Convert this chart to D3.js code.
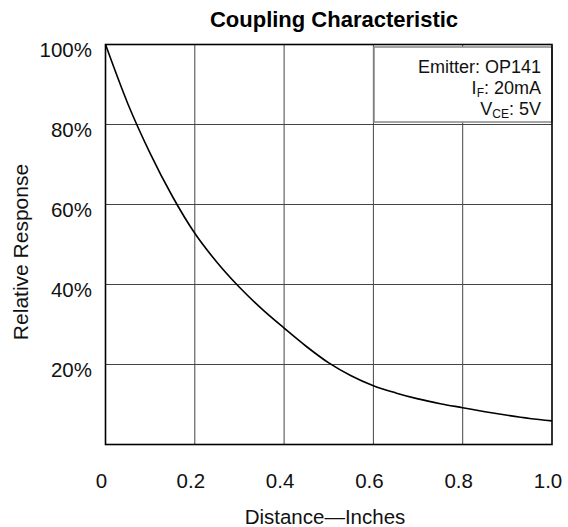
<!DOCTYPE html>
<html>
<head>
<meta charset="utf-8">
<script src="https://cdn.jsdelivr.net/npm/d3@7"></script>
<style>
  body { margin: 0; background: #fff; }
  svg { display: block; font-family: Arial, "Liberation Sans", sans-serif; }
</style>
</head>
<body>
<div id="chart"></div>
<script>
// data
let distance = [0, 0.05, 0.1, 0.15, 0.2, 0.25, 0.3, 0.35, 0.4, 0.45, 0.5,
                0.55, 0.6, 0.65, 0.7, 0.75, 0.8, 0.85, 0.9, 0.95, 1.0];
let response = [100, 85.2, 72.8, 62, 52.8, 45.5, 39.3, 33.9, 29.1, 24.5, 20.4,
                17.2, 14.7, 12.9, 11.4, 10.2, 9.2, 8.2, 7.3, 6.5, 5.9];

let xTicks = [0, 0.2, 0.4, 0.6, 0.8, 1.0];
let xTickLabels = ["0", "0.2", "0.4", "0.6", "0.8", "1.0"];
let yTicks = [20, 40, 60, 80, 100];
let yTickLabels = ["20%", "40%", "60%", "80%", "100%"];

let legendLines = [
  {main: "Emitter: OP141", sub: "", rest: ""},
  {main: "I", sub: "F", rest: ": 20mA"},
  {main: "V", sub: "CE", rest: ": 5V"}
];

let width = 568, height = 527;

let xScale = d3.scaleLinear().domain([0, 1]).range([105.5, 552]);
let yScale = d3.scaleLinear().domain([0, 100]).range([444.5, 44.5]);

let svg = d3.select("#chart").append("svg")
  .attr("width", width)
  .attr("height", height);

// grid
svg.append("g").selectAll("line")
  .data(xTicks.slice(1, -1))
  .enter().append("line")
  .attr("x1", d => xScale(d)).attr("x2", d => xScale(d))
  .attr("y1", yScale(0)).attr("y2", yScale(100))
  .attr("stroke", "#444").attr("stroke-width", 1);

svg.append("g").selectAll("line")
  .data(yTicks.slice(0, -1))
  .enter().append("line")
  .attr("y1", d => yScale(d)).attr("y2", d => yScale(d))
  .attr("x1", xScale(0)).attr("x2", xScale(1))
  .attr("stroke", "#444").attr("stroke-width", 1);

// curve
let pts = distance.map((d, i) => [d, response[i]]);
svg.append("path")
  .datum(pts)
  .attr("fill", "none")
  .attr("stroke", "#000")
  .attr("stroke-width", 1.6)
  .attr("d", d3.line()
    .x(d => xScale(d[0]))
    .y(d => yScale(d[1]))
    .curve(d3.curveMonotoneX));

// legend box
svg.append("rect")
  .attr("x", 374).attr("y", 47)
  .attr("width", xScale(1) - 374).attr("height", 75)
  .attr("fill", "#fff")
  .attr("stroke", "#888").attr("stroke-width", 1.5);

let legText = svg.append("g").selectAll("text")
  .data(legendLines)
  .enter().append("text")
  .attr("x", 541)
  .attr("y", (d, i) => 73 + i * 21)
  .attr("text-anchor", "end")
  .attr("font-size", 18)
  .attr("fill", "#111");
legText.append("tspan").text(d => d.main);
legText.append("tspan").attr("font-size", 12).attr("dy", 3).text(d => d.sub);
legText.append("tspan").attr("dy", d => d.sub ? -3 : 0).text(d => d.rest);

// frame
svg.append("rect")
  .attr("x", xScale(0)).attr("y", yScale(100))
  .attr("width", xScale(1) - xScale(0))
  .attr("height", yScale(0) - yScale(100))
  .attr("fill", "none")
  .attr("stroke", "#000").attr("stroke-width", 1.6);

// tick labels
svg.append("g").selectAll("text")
  .data(xTicks)
  .enter().append("text")
  .attr("x", d => xScale(d) - 4)
  .attr("y", 488)
  .attr("text-anchor", "middle")
  .attr("font-size", 20.5)
  .attr("fill", "#111")
  .text((d, i) => xTickLabels[i]);

svg.append("g").selectAll("text")
  .data(yTicks)
  .enter().append("text")
  .attr("x", 92)
  .attr("y", d => yScale(d) + 12)
  .attr("text-anchor", "end")
  .attr("font-size", 20.5)
  .attr("fill", "#111")
  .text((d, i) => yTickLabels[i]);

// titles
svg.append("text")
  .attr("x", 334).attr("y", 27)
  .attr("text-anchor", "middle")
  .attr("font-size", 22)
  .attr("font-weight", "bold")
  .text("Coupling Characteristic");

svg.append("text")
  .attr("x", 325).attr("y", 524)
  .attr("text-anchor", "middle")
  .attr("font-size", 20.5)
  .attr("fill", "#111")
  .text("Distance\u2014Inches");

svg.append("text")
  .attr("transform", "translate(28,252) rotate(-90)")
  .attr("text-anchor", "middle")
  .attr("font-size", 21)
  .attr("fill", "#111")
  .text("Relative Response");
</script>
</body>
</html>
